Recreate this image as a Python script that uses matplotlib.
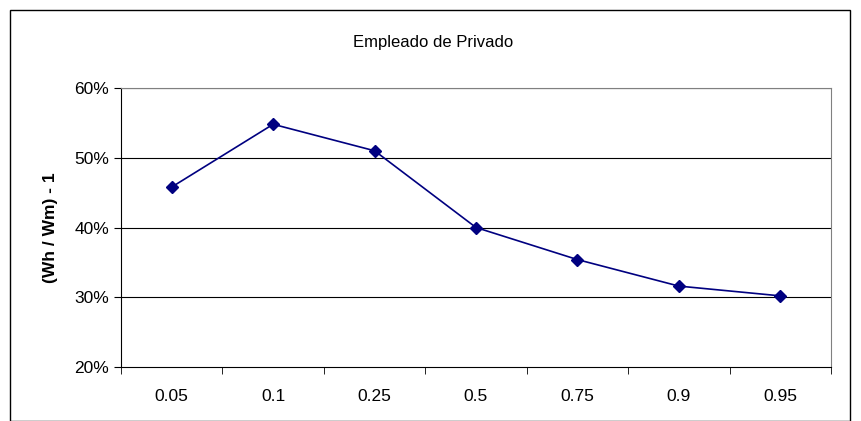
import matplotlib
matplotlib.use("Agg")
import matplotlib.pyplot as plt
from matplotlib.patches import Rectangle

categories = ["0.05", "0.1", "0.25", "0.5", "0.75", "0.9", "0.95"]
values = [45.8, 54.8, 51.0, 40.0, 35.4, 31.6, 30.2]
yticks = [20, 30, 40, 50, 60]

plt.rcParams['font.family'] = ['Liberation Sans', 'DejaVu Sans']
W, H = 861, 421
fig = plt.figure(figsize=(W/100, H/100), dpi=100)
fig.patches.append(Rectangle((10/W, 0), 840/W, 1-10/H, transform=fig.transFigure,
                             fill=False, edgecolor='black', linewidth=1))
ax = fig.add_axes([121/W, 1-367/H, 710/W, 279/H])
x = list(range(len(categories)))
ax.plot(x, values, color='#000080', marker='D', markersize=6, linewidth=1.2)
ax.set_xlim(-0.5, len(categories)-0.5)
ax.set_ylim(20, 60)
ax.set_yticks(yticks)
ax.set_yticklabels([f"{v}%" for v in yticks], fontsize=12.5)
ax.set_xticks(x)
ax.set_xticklabels(categories, fontsize=12.5)
ax.set_xticks([i+0.5 for i in range(-1, len(categories))], minor=True)
ax.tick_params(axis='x', which='major', length=0, pad=16)
ax.tick_params(axis='x', which='minor', length=5, direction='out')
ax.tick_params(axis='y', length=5, direction='out')
for v in yticks[1:]:
    ax.axhline(v, color='black', linewidth=0.8, zorder=0)
for s in ['top', 'right']:
    ax.spines[s].set_color('#808080')
for s in ['left', 'bottom']:
    ax.spines[s].set_color('black')
ax.set_ylabel("(Wh / Wm) - 1", fontsize=12.5, fontweight='bold', labelpad=12)
fig.text(433/W, 1-43/H, "Empleado de Privado", ha='center', va='center', fontsize=12)
fig.savefig("out.png", dpi=100)
